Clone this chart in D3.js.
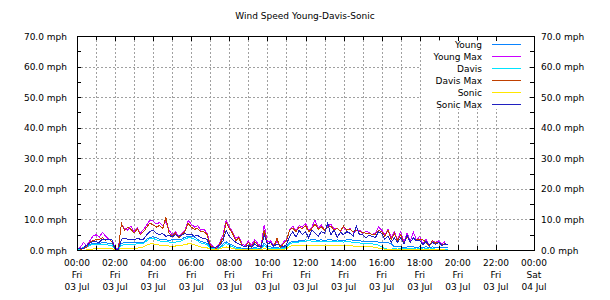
<!DOCTYPE html>
<html lang="en">
<head>
    <meta charset="UTF-8">
    <title>Wind Speed Young-Davis-Sonic</title>
    <script src="https://d3js.org/d3.v7.min.js"></script>
    <style>
        body { margin: 0; background: #fff; }
        text { font-family: "DejaVu Sans", sans-serif; font-size: 9px; fill: #000; }
    </style>
</head>
<body>
    <div id="chart"></div>
    <script>
        // 10 minute samples starting 03 Jul 00:00, one row per hour
        const start = new Date(2015, 6, 3, 0, 0);
        const stepMinutes = 10;

        const seriesNames = ['Young', 'Young Max', 'Davis', 'Davis Max', 'Sonic', 'Sonic Max'];
        const seriesColors = ['#0a84ff', '#cc00ff', '#00e4ff', '#c04000', '#ffe600', '#2020c0'];

        const young = [
            0.5, 0.5, 0.8, 1.2, 1.8, 2.2,
            2.2, 2.2, 2.4, 2.4, 2.2, 2.0,
            0.2, 0.2, 2.2, 2.4, 2.4, 2.4,
            2.4, 2.5, 2.6, 2.6, 3.5, 4.2,
            4.3, 4.0, 3.5, 3.3, 3.3, 3.2,
            3.3, 3.3, 3.4, 3.6, 4.2, 4.4,
            4.4, 4.2, 3.5, 2.8, 2.5, 2.2,
            0.8, 0.6, 0.6, 1.0, 2.0, 2.7,
            2.0, 1.5, 1.0, 0.8, 0.6, 0.5,
            0.6, 0.5, 0.8, 0.6, 0.5, 2.2,
            1.0, 1.0, 0.7, 0.8, 0.6, 0.8,
            1.2, 2.4, 2.8, 2.7, 3.0, 3.2,
            3.3, 3.2, 3.4, 3.3, 3.2, 3.3,
            3.2, 3.3, 3.4, 3.1, 3.3, 3.2,
            3.2, 3.3, 3.4, 3.2, 3.1, 3.0,
            2.9, 2.8, 2.8, 2.7, 2.7, 2.6,
            2.6, 2.4, 2.5, 2.0, 1.0, 1.0,
            1.1, 0.8, 1.0, 1.2, 1.0, 0.8,
            1.0, 0.8, 1.1, 0.8, 1.0, 0.9,
            0.9, 0.8, 0.8, 0.8
        ];
        const youngMax = [
            0.3, 0.8, 2.4, 1.5, 3.0, 4.5,
            5.0, 4.2, 5.8, 4.5, 3.6, 3.5,
            0.5, 0.3, 8.5, 7.0, 6.5, 7.8,
            6.0, 7.2, 5.5, 6.8, 8.2, 9.8,
            9.5, 8.5, 9.0, 8.0, 9.4, 6.5,
            5.0, 6.0, 4.5, 5.5, 6.5, 9.6,
            8.5, 7.5, 8.0, 6.5, 6.8, 5.5,
            2.0, 1.0, 0.8, 2.5, 5.0, 9.8,
            7.5, 6.0, 3.8, 4.5, 2.0, 1.5,
            3.0, 1.5, 3.5, 2.0, 1.2, 8.2,
            2.5, 3.0, 1.5, 2.8, 1.0, 2.5,
            3.5, 6.5, 7.8, 6.2, 8.0, 7.5,
            8.7, 6.5, 7.5, 9.8, 7.0, 8.2,
            6.5, 7.8, 8.5, 6.8, 7.2, 6.0,
            7.5, 6.5, 7.0, 5.8, 6.2, 6.5,
            5.5, 6.0, 5.8, 5.0, 5.5, 7.5,
            6.5, 5.0, 6.8, 4.0, 6.0, 3.5,
            6.0, 2.5, 5.5, 3.0, 5.8, 3.2,
            4.5, 2.0, 3.5, 1.5, 3.0, 2.5,
            3.0, 2.0, 2.8
        ];
        const davis = [
            0.2, 0.3, 0.5, 0.8, 1.5, 1.8,
            1.8, 1.7, 1.8, 1.8, 1.6, 1.5,
            0.1, 0.1, 1.5, 1.8, 1.8, 1.9,
            1.9, 2.0, 2.0, 2.2, 3.0, 3.8,
            3.8, 3.3, 3.0, 2.8, 2.7, 2.6,
            2.5, 2.6, 2.7, 3.0, 3.6, 4.0,
            3.9, 3.5, 3.0, 2.3, 2.0, 1.8,
            0.5, 0.4, 0.3, 0.6, 1.4, 2.2,
            1.5, 1.0, 0.6, 0.5, 0.3, 0.2,
            0.3, 0.2, 0.5, 0.3, 0.2, 1.6,
            0.6, 0.6, 0.4, 0.5, 0.3, 0.5,
            0.8, 2.0, 2.4, 2.3, 2.6, 2.8,
            2.9, 3.2, 2.8, 2.7, 2.6, 2.8,
            2.7, 2.9, 2.8, 2.6, 2.8, 2.7,
            2.6, 2.8, 2.7, 2.5, 2.4, 2.3,
            2.2, 2.1, 2.1, 2.0, 1.9, 1.6,
            1.0, 0.4, 0.3, 0.3, 0.4, 0.3,
            0.5, 0.3, 0.5, 0.6, 0.4, 0.3,
            0.5, 0.3, 0.4, 0.3, 0.4, 0.3,
            0.3, 0.3, 0.3, 0.3
        ];
        const davisMax = [
            0.0, 0.0, 0.5, 0.8, 2.5, 3.2,
            3.3, 3.5, 4.0, 3.2, 3.5, 2.8,
            0.2, 0.0, 8.7, 6.5, 7.5, 6.8,
            5.5, 7.0, 5.0, 6.0, 7.5, 8.8,
            8.2, 7.5, 8.0, 7.0, 10.6, 5.5,
            4.5, 5.5, 4.0, 5.0, 6.0, 8.7,
            7.5, 6.8, 7.0, 6.0, 6.0, 5.0,
            1.5, 0.8, 0.5, 2.0, 4.0, 9.0,
            7.0, 5.5, 3.0, 4.0, 1.5, 1.0,
            2.5, 1.0, 2.8, 1.5, 0.8, 6.5,
            2.0, 2.5, 1.0, 3.8, 0.8, 2.0,
            3.0, 6.5, 7.2, 6.0, 7.5, 7.0,
            8.0, 6.0, 7.0, 8.5, 6.8, 7.5,
            6.5, 7.5, 7.8, 6.5, 7.0, 6.2,
            7.8, 6.5, 6.8, 6.0, 6.5, 6.0,
            5.8, 5.5, 5.5, 5.0, 5.2, 6.5,
            6.0, 4.5, 6.5, 3.5, 5.5, 3.0,
            5.0, 2.0, 4.5, 2.5, 4.0, 3.3,
            3.5, 3.3, 2.5, 1.2, 3.2, 2.2,
            2.5, 1.8, 2.0
        ];
        const sonic = [
            0.0, 0.0, 0.0, 0.0, 0.2, 0.3,
            0.5, 0.5, 0.5, 0.5, 0.6, 0.5,
            0.1, 0.1, 0.5, 0.6, 0.6, 0.6,
            0.6, 0.6, 0.8, 1.0, 1.6, 2.0,
            2.0, 1.8, 1.6, 1.5, 1.4, 1.3,
            1.3, 1.3, 1.4, 1.5, 1.8, 2.0,
            2.0, 1.7, 1.4, 1.0, 0.8, 0.7,
            0.3, 0.2, 0.2, 0.4, 0.8, 1.0,
            0.8, 0.5, 0.3, 0.2, 0.2, 0.1,
            0.2, 0.1, 0.2, 0.1, 0.1, 0.5,
            0.2, 0.2, 0.1, 0.1, 0.1, 0.2,
            0.4, 1.2, 1.4, 1.4, 1.5, 1.5,
            1.6, 1.5, 1.5, 1.6, 1.4, 1.5,
            1.5, 1.6, 1.5, 1.4, 1.5, 1.4,
            1.4, 1.5, 1.4, 1.3, 1.3, 1.2,
            1.2, 1.1, 1.1, 1.0, 0.9, 0.6,
            0.4, 0.3, 0.3, 0.2, 0.3, 0.2,
            0.3, 0.2, 0.2, 0.3, 0.2, 0.2,
            0.3, 0.2, 0.2, 0.2, 0.3, 0.2,
            0.2, 0.2, 0.2
        ];
        const sonicMax = [
            0.5, 0.5, 0.5, 1.6, 2.2, 2.7,
            2.7, 2.5, 3.5, 3.5, 3.3, 3.5,
            0.3, 0.2, 3.5, 3.8, 3.5, 3.6,
            3.3, 3.8, 3.5, 3.6, 5.0, 6.0,
            6.5, 5.5, 5.0, 5.4, 4.5, 4.8,
            4.3, 5.0, 4.5, 4.8, 5.4, 5.0,
            5.2, 4.5, 4.8, 4.0, 3.8, 3.5,
            1.0, 0.8, 1.0, 1.5, 3.0, 6.5,
            4.5, 3.5, 2.5, 2.0, 1.5, 1.0,
            1.5, 1.0, 2.0, 1.2, 1.0, 4.9,
            1.8, 2.5, 1.2, 2.0, 1.5, 1.0,
            1.8, 4.5, 6.0, 4.2, 6.5, 5.0,
            6.0, 4.0, 6.5, 5.5, 4.5, 6.0,
            5.5, 8.7, 5.0, 6.5, 4.2, 5.8,
            5.0, 6.0, 5.5, 4.5, 7.8, 5.0,
            5.0, 4.0, 4.8, 4.5, 4.0, 6.0,
            5.5, 3.5, 4.5, 2.5, 4.0, 2.5,
            4.0, 2.0, 5.0, 2.5, 4.0, 3.0,
            3.0, 1.8, 2.8, 1.5, 2.5, 1.8,
            2.5, 1.5, 2.0, 1.6
        ];

        const yTicks = [0, 10, 20, 30, 40, 50, 60, 70];

        const width = 610, height = 300;
        const plotLeft = 77, plotRight = 534, plotTop = 36, plotBottom = 250;

        const svg = d3.select('#chart').append('svg')
            .attr('width', width).attr('height', height);

        const end = d3.timeDay.offset(start, 1);
        const x = d3.scaleTime().domain([start, end]).range([plotLeft, plotRight]);
        const y = d3.scaleLinear().domain([0, 70]).range([plotBottom, plotTop]);

        const hours = d3.timeHour.range(start, d3.timeHour.offset(end, 1));
        const innerHours = hours.slice(1, -2);
        const halfSteps = d3.range(0, 71, 5);

        // title
        svg.append('text')
            .attr('x', 305).attr('y', 19)
            .attr('text-anchor', 'middle')
            .text('Wind Speed Young-Davis-Sonic');

        // grid
        const grid = svg.append('g')
            .attr('stroke', '#a0a0a0')
            .attr('stroke-dasharray', '2,2')
            .attr('shape-rendering', 'crispEdges');
        grid.selectAll('line.v')
            .data(innerHours)
            .join('line')
            .attr('class', 'v')
            .attr('x1', d => Math.round(x(d)) + 0.5).attr('x2', d => Math.round(x(d)) + 0.5)
            .attr('y1', plotTop).attr('y2', plotBottom);
        grid.selectAll('line.h')
            .data(yTicks.slice(1, -1))
            .join('line')
            .attr('class', 'h')
            .attr('x1', plotLeft).attr('x2', plotRight)
            .attr('y1', d => Math.round(y(d)) + 0.5).attr('y2', d => Math.round(y(d)) + 0.5);

        // legend background hides the grid behind it
        svg.append('rect')
            .attr('x', 421).attr('y', 41)
            .attr('width', 108).attr('height', 68)
            .attr('fill', '#fff');

        // series
        const line = d3.line()
            .x((d, i) => x(d3.timeMinute.offset(start, i * stepMinutes)))
            .y(d => y(d));

        const allSeries = [young, youngMax, davis, davisMax, sonic, sonicMax];
        svg.append('g')
            .selectAll('path')
            .data(allSeries)
            .join('path')
            .attr('fill', 'none')
            .attr('stroke', (d, i) => seriesColors[i])
            .attr('stroke-width', 1)
            .attr('shape-rendering', 'crispEdges')
            .attr('d', line);

        // frame and ticks
        const frame = svg.append('g')
            .attr('stroke', '#000')
            .attr('shape-rendering', 'crispEdges');
        frame.append('rect')
            .attr('x', plotLeft + 0.5).attr('y', plotTop + 0.5)
            .attr('width', plotRight - plotLeft).attr('height', plotBottom - plotTop)
            .attr('fill', 'none');

        frame.selectAll('line.tt')
            .data(innerHours)
            .join('line')
            .attr('class', 'tt')
            .attr('x1', d => Math.round(x(d)) + 0.5).attr('x2', d => Math.round(x(d)) + 0.5)
            .attr('y1', plotTop).attr('y2', d => plotTop + (d.getHours() % 2 === 0 ? 5 : 4));
        frame.selectAll('line.tb')
            .data(innerHours)
            .join('line')
            .attr('class', 'tb')
            .attr('x1', d => Math.round(x(d)) + 0.5).attr('x2', d => Math.round(x(d)) + 0.5)
            .attr('y1', plotBottom).attr('y2', d => plotBottom - (d.getHours() % 2 === 0 ? 5 : 4));
        frame.selectAll('line.tl')
            .data(halfSteps.slice(1, -1))
            .join('line')
            .attr('class', 'tl')
            .attr('x1', plotLeft).attr('x2', plotLeft + 4)
            .attr('y1', d => Math.round(y(d)) + 0.5).attr('y2', d => Math.round(y(d)) + 0.5);
        frame.selectAll('line.tr')
            .data(halfSteps.slice(1, -1))
            .join('line')
            .attr('class', 'tr')
            .attr('x1', plotRight - 4).attr('x2', plotRight)
            .attr('y1', d => Math.round(y(d)) + 0.5).attr('y2', d => Math.round(y(d)) + 0.5);

        // y labels, both sides
        const fmtY = d => d.toFixed(1) + ' mph';
        svg.append('g').selectAll('text')
            .data(yTicks)
            .join('text')
            .attr('x', plotLeft - 10).attr('y', d => y(d) + 3.5)
            .attr('text-anchor', 'end')
            .text(fmtY);
        svg.append('g').selectAll('text')
            .data(yTicks)
            .join('text')
            .attr('x', plotRight + 7).attr('y', d => y(d) + 3.5)
            .text(fmtY);

        // x labels
        const xTicks = d3.timeHour.every(2).range(start, d3.timeHour.offset(end, 1));
        const xl = svg.append('g').selectAll('text')
            .data(xTicks)
            .join('text')
            .attr('text-anchor', 'middle');
        xl.append('tspan').attr('x', d => x(d)).attr('y', 266).text(d3.timeFormat('%H:%M'));
        xl.append('tspan').attr('x', d => x(d)).attr('y', 278).text(d3.timeFormat('%a'));
        xl.append('tspan').attr('x', d => x(d)).attr('y', 290).text(d3.timeFormat('%d %b'));

        // legend
        const lg = svg.append('g').selectAll('g')
            .data(seriesNames)
            .join('g')
            .attr('transform', (d, i) => `translate(0,${44 + i * 12})`);
        lg.append('text')
            .attr('x', 482).attr('y', 3.5)
            .attr('text-anchor', 'end')
            .text(d => d);
        lg.append('line')
            .attr('x1', 492).attr('x2', 521)
            .attr('y1', 0.5).attr('y2', 0.5)
            .attr('shape-rendering', 'crispEdges')
            .attr('stroke', (d, i) => seriesColors[i]);
    </script>
</body>
</html>
